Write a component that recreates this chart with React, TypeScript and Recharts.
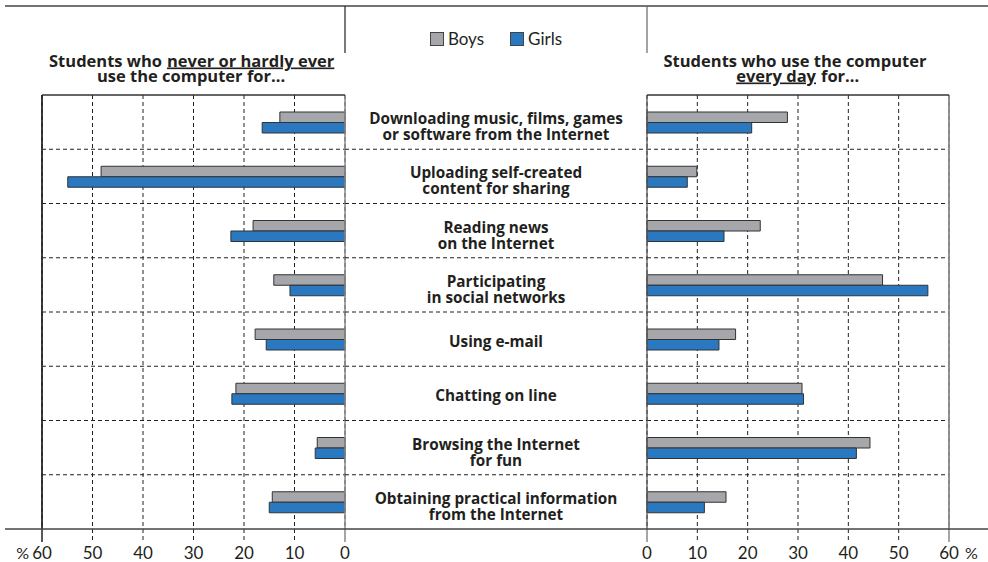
import React from 'react';
import { BarChart, Bar, XAxis, YAxis, CartesianGrid, ReferenceLine, Legend } from 'recharts';

const categories = [
  'Downloading music, films, games\nor software from the Internet',
  'Uploading self-created\ncontent for sharing',
  'Reading news\non the Internet',
  'Participating\nin social networks',
  'Using e-mail',
  'Chatting on line',
  'Browsing the Internet\nfor fun',
  'Obtaining practical information\nfrom the Internet',
];
const neverBoys = [12.9, 48.3, 18.2, 14.1, 17.8, 21.6, 5.5, 14.4];
const neverGirls = [16.4, 54.9, 22.6, 10.9, 15.6, 22.4, 5.9, 15.0];
const dailyBoys = [27.9, 9.9, 22.5, 46.8, 17.6, 30.8, 44.3, 15.7];
const dailyGirls = [20.8, 8.0, 15.3, 55.8, 14.3, 31.1, 41.6, 11.4];
const xTicks = [0, 10, 20, 30, 40, 50, 60];
const seriesNames = ['Boys', 'Girls'];
const seriesColors = ['#a6a7aa', '#2a78bf'];

const leftData = categories.map((cat, i) => ({ cat, boys: neverBoys[i], girls: neverGirls[i] }));
const rightData = categories.map((cat, i) => ({ cat, boys: dailyBoys[i], girls: dailyGirls[i] }));

const FONT = 'Lato, "Open Sans", sans-serif';
const BOLD_FONT = '"Open Sans", Lato, sans-serif';
const TEXT = '#231f20';
const TOP = 95;
const AXIS_H = 33;
const H = 562;
const PLOT_H = H - AXIS_H - TOP;
const ROW_H = PLOT_H / categories.length;
const CENTER_W = 302;

const rowLines = (props: any) => {
  const { offset } = props;
  const out: number[] = [];
  for (let i = 1; i < categories.length; i++) out.push(offset.top + (i * offset.height) / categories.length);
  return out;
};

const makeXTick = (side: 'L' | 'R') => (props: any) => {
  const { x, y, payload } = props;
  const v = payload.value;
  const end = v === 0 || v === 60;
  let stroke = '#222';
  if (v === 0 || (side === 'R' && v === 60)) stroke = '#888';
  return (
    <g>
      <line x1={x} x2={x} y1={y} y2={y + 13} stroke={stroke} strokeWidth={end ? 1.5 : 1} strokeDasharray={end ? undefined : '4 3'} />
      <text x={x} y={y + 30} textAnchor="middle" fontSize={17} fontFamily={FONT} fill={TEXT}>{v}</text>
      {side === 'L' && v === 60 && (
        <text x={x - 13} y={y + 30} textAnchor="end" fontSize={16} fontFamily={FONT} fill={TEXT}>%</text>
      )}
      {side === 'R' && v === 60 && (
        <text x={x + 16} y={y + 30} textAnchor="start" fontSize={16} fontFamily={FONT} fill={TEXT}>%</text>
      )}
    </g>
  );
};

const CatTick = (props: any) => {
  const { x, y, payload, index } = props;
  const lines = String(payload.value).split('\n');
  const cx = x + CENTER_W / 2;
  const lh = 16;
  const y0 = y + 7.5 - (lines.length - 1) * 5.5;
  return (
    <g>
      <text textAnchor="middle" fontSize={15.3} fontWeight={700} fontFamily={BOLD_FONT} fill={TEXT}>
        {lines.map((l, i) => (
          <tspan key={i} x={cx} y={y0 + i * lh}>{l}</tspan>
        ))}
      </text>
      {index < categories.length - 1 && (
        <line x1={x} x2={x + CENTER_W} y1={y + ROW_H / 2} y2={y + ROW_H / 2} stroke="#222" strokeDasharray="4 3" />
      )}
    </g>
  );
};

const LegendContent = () => (
  <div style={{ display: 'flex', justifyContent: 'center', alignItems: 'center', fontFamily: FONT, fontSize: 17, color: TEXT }}>
    {seriesNames.map((n, i) => (
      <div key={n} style={{ display: 'flex', alignItems: 'center', marginRight: i === 0 ? 26 : 0 }}>
        <div style={{ width: 12, height: 12, background: seriesColors[i], border: '1px solid #444', marginRight: 4 }} />
        <span>{n}</span>
      </div>
    ))}
  </div>
);

const tProps = { fontSize: 16.5, fontWeight: 700, fontFamily: BOLD_FONT, fill: TEXT };

export default function App() {
  return (
    <div style={{ position: 'absolute', left: 0, top: 0, width: 988, height: H, background: '#fff', fontFamily: FONT }}>
      <div style={{ position: 'absolute', left: 0, top: 0 }}>
        <BarChart
          width={647}
          height={H}
          layout="vertical"
          data={leftData}
          margin={{ top: TOP, right: 0, bottom: 0, left: 42 }}
          barGap={0}
          barSize={10.5}
        >
          <CartesianGrid stroke="#222" strokeDasharray="4 3" horizontalCoordinatesGenerator={rowLines} />
          <XAxis
            type="number"
            domain={[0, 60]}
            ticks={xTicks}
            reversed
            height={AXIS_H}
            axisLine={false}
            tickLine={false}
            tickSize={0}
            tickMargin={0}
            tick={makeXTick('L')}
            interval={0}
          />
          <YAxis
            type="category"
            dataKey="cat"
            orientation="right"
            width={CENTER_W}
            axisLine={false}
            tickLine={false}
            tickSize={0}
            tickMargin={0}
            tick={CatTick}
            interval={0}
          />
          <ReferenceLine x={60} stroke="#222" strokeWidth={1.3} />
          <ReferenceLine x={0} stroke="#888" strokeWidth={1.5} />
          <Legend
            layout="horizontal"
            verticalAlign="middle"
            align="center"
            content={LegendContent}
            wrapperStyle={{ position: 'absolute', left: 346, top: 28, width: 300, height: 22 }}
          />
          <Bar dataKey="boys" name={seriesNames[0]} fill={seriesColors[0]} stroke="#333" strokeWidth={1} isAnimationActive={false} />
          <Bar dataKey="girls" name={seriesNames[1]} fill={seriesColors[1]} stroke="#333" strokeWidth={1} isAnimationActive={false} />
        </BarChart>
      </div>
      <div style={{ position: 'absolute', left: 617, top: 0 }}>
        <BarChart
          width={371}
          height={H}
          layout="vertical"
          data={rightData}
          margin={{ top: TOP, right: 39, bottom: 0, left: 30 }}
          barGap={0}
          barSize={10.5}
        >
          <CartesianGrid stroke="#222" strokeDasharray="4 3" horizontalCoordinatesGenerator={rowLines} />
          <XAxis
            type="number"
            domain={[0, 60]}
            ticks={xTicks}
            height={AXIS_H}
            axisLine={false}
            tickLine={false}
            tickSize={0}
            tickMargin={0}
            tick={makeXTick('R')}
            interval={0}
          />
          <YAxis type="category" dataKey="cat" hide width={0} />
          <ReferenceLine x={0} stroke="#555" strokeWidth={1.3} />
          <ReferenceLine x={60} stroke="#888" strokeWidth={1.8} />
          <Bar dataKey="boys" name={seriesNames[0]} fill={seriesColors[0]} stroke="#333" strokeWidth={1} isAnimationActive={false} />
          <Bar dataKey="girls" name={seriesNames[1]} fill={seriesColors[1]} stroke="#333" strokeWidth={1} isAnimationActive={false} />
        </BarChart>
      </div>
      <svg width={988} height={H} style={{ position: 'absolute', left: 0, top: 0, pointerEvents: 'none' }}>
        <line x1={5} x2={988} y1={6} y2={6} stroke="#444" strokeWidth={1.5} />
        <line x1={345} x2={345} y1={6} y2={53} stroke="#222" strokeWidth={1.2} />
        <line x1={647} x2={647} y1={6} y2={53} stroke="#666" strokeWidth={1.2} />
        <line x1={42} x2={345} y1={TOP} y2={TOP} stroke="#333" strokeWidth={1.3} />
        <line x1={647} x2={949} y1={TOP} y2={TOP} stroke="#333" strokeWidth={1.3} />
        <line x1={42} x2={42} y1={TOP} y2={H - AXIS_H} stroke="#222" strokeWidth={1.3} />
        <line x1={5} x2={988} y1={H - AXIS_H} y2={H - AXIS_H} stroke="#444" strokeWidth={1.5} />
        <text {...tProps} x={162} y={66.5} textAnchor="end">Students who</text>
        <text {...tProps} x={167} y={66.5} textAnchor="start" textDecoration="underline">never or hardly ever</text>
        <text {...tProps} x={191} y={81.5} textAnchor="middle">use the computer for...</text>
        <text {...tProps} x={795} y={66.5} textAnchor="middle">Students who use the computer</text>
        <text {...tProps} x={816} y={81.5} textAnchor="end" textDecoration="underline">every day</text>
        <text {...tProps} x={821} y={81.5} textAnchor="start">for...</text>
      </svg>
    </div>
  );
}
